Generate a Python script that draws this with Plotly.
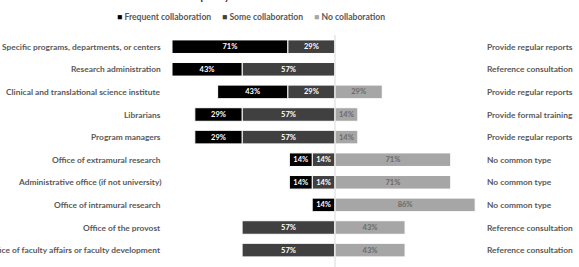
import plotly.graph_objects as go

categories = [
    "Specific programs, departments, or centers",
    "Research administration",
    "Clinical and translational science institute",
    "Librarians",
    "Program managers",
    "Office of extramural research",
    "Administrative office (if not university)",
    "Office of intramural research",
    "Office of the provost",
    "Office of faculty affairs or faculty development",
]
frequent = [71, 43, 43, 29, 29, 14, 14, 14, 0, 0]
some = [29, 57, 29, 57, 57, 14, 14, 0, 57, 57]
none_ = [0, 0, 29, 14, 14, 71, 71, 86, 43, 43]
common_type = [
    "Provide regular reports",
    "Reference consultation",
    "Provide regular reports",
    "Provide formal training",
    "Provide regular reports",
    "No common type",
    "No common type",
    "No common type",
    "Reference consultation",
    "Reference consultation",
]
series_names = ["Frequent collaboration", "Some collaboration", "No collaboration"]
colors = ["#000000", "#404040", "#a6a6a6"]

W, H = 579, 267
FONT = "Lato"
TXT = "#595959"
y_idx = list(range(len(categories)))

def lab(vals):
    return [f"<b>{v}%</b>" if v else "" for v in vals]

fig = go.Figure()
# "Some" first so it sits next to the center line on the left
for vals, sign, col, name, tcol in [
    (some, -1, colors[1], series_names[1], "white"),
    (frequent, -1, colors[0], series_names[0], "white"),
    (none_, 1, colors[2], series_names[2], "#6a6a6a"),
]:
    fig.add_trace(go.Bar(
        y=y_idx, x=[sign * v for v in vals], orientation="h", name=name,
        marker=dict(color=col, line=dict(color="white", width=1)),
        text=lab(vals), textposition="inside", insidetextanchor="middle",
        constraintext="none", cliponaxis=False,
        textfont=dict(color=tcol, size=7.5, family=FONT), textangle=0,
        showlegend=False, width=0.6,
    ))

px_per = 1.63
center = 335
x_range = [-center / px_per, (W - center) / px_per]
row0, step = 46.7, 22.6
y_range = [(H - row0) / step, -row0 / step]

annotations = []
for i, c in enumerate(categories):
    annotations.append(dict(x=163 / W, xref="paper", y=i, yref="y", text=f"<b>{c}</b>",
                            xanchor="right", yanchor="middle", showarrow=False,
                            font=dict(size=8.4, color=TXT, family=FONT)))
    annotations.append(dict(x=485 / W, xref="paper", y=i, yref="y", text=f"<b>{common_type[i]}</b>",
                            xanchor="left", yanchor="middle", showarrow=False,
                            font=dict(size=8.4, color=TXT, family=FONT)))

# legend
leg_x = [115, 220, 312]
for name, col, lx in zip(series_names, colors, leg_x):
    annotations.append(dict(x=lx / W, xref="paper", y=1 - 17 / H, yref="paper",
                            text=f"<span style='color:{col}'>■</span> <b>{name}</b>",
                            xanchor="left", yanchor="middle", showarrow=False,
                            font=dict(size=8.6, color=TXT, family=FONT)))

# titles (cut at top, as in the reference)
annotations.append(dict(x=242 / W, xref="paper", y=1 - 4 / H, yref="paper",
                        text="<b>Frequency of collaboration</b>", xanchor="center", yanchor="bottom",
                        showarrow=False, font=dict(size=10, color="#262626", family=FONT)))
annotations.append(dict(x=457 / W, xref="paper", y=1 - 4 / H, yref="paper",
                        text="<b>Most common collaboration type</b>", xanchor="left", yanchor="bottom",
                        showarrow=False, font=dict(size=10, color="#262626", family=FONT)))

fig.update_layout(
    width=W, height=H, margin=dict(l=0, r=0, t=0, b=0),
    paper_bgcolor="white", plot_bgcolor="white",
    barmode="relative", bargap=0.4,
    xaxis=dict(range=x_range, visible=False, fixedrange=True),
    yaxis=dict(range=y_range, visible=False, fixedrange=True),
    annotations=annotations,
    shapes=[dict(type="line", xref="x", yref="paper", x0=0, x1=0, y0=0, y1=1 - 35 / H,
                 line=dict(color="#d9d9d9", width=1), layer="above")],
)

fig.write_html("out.html")
